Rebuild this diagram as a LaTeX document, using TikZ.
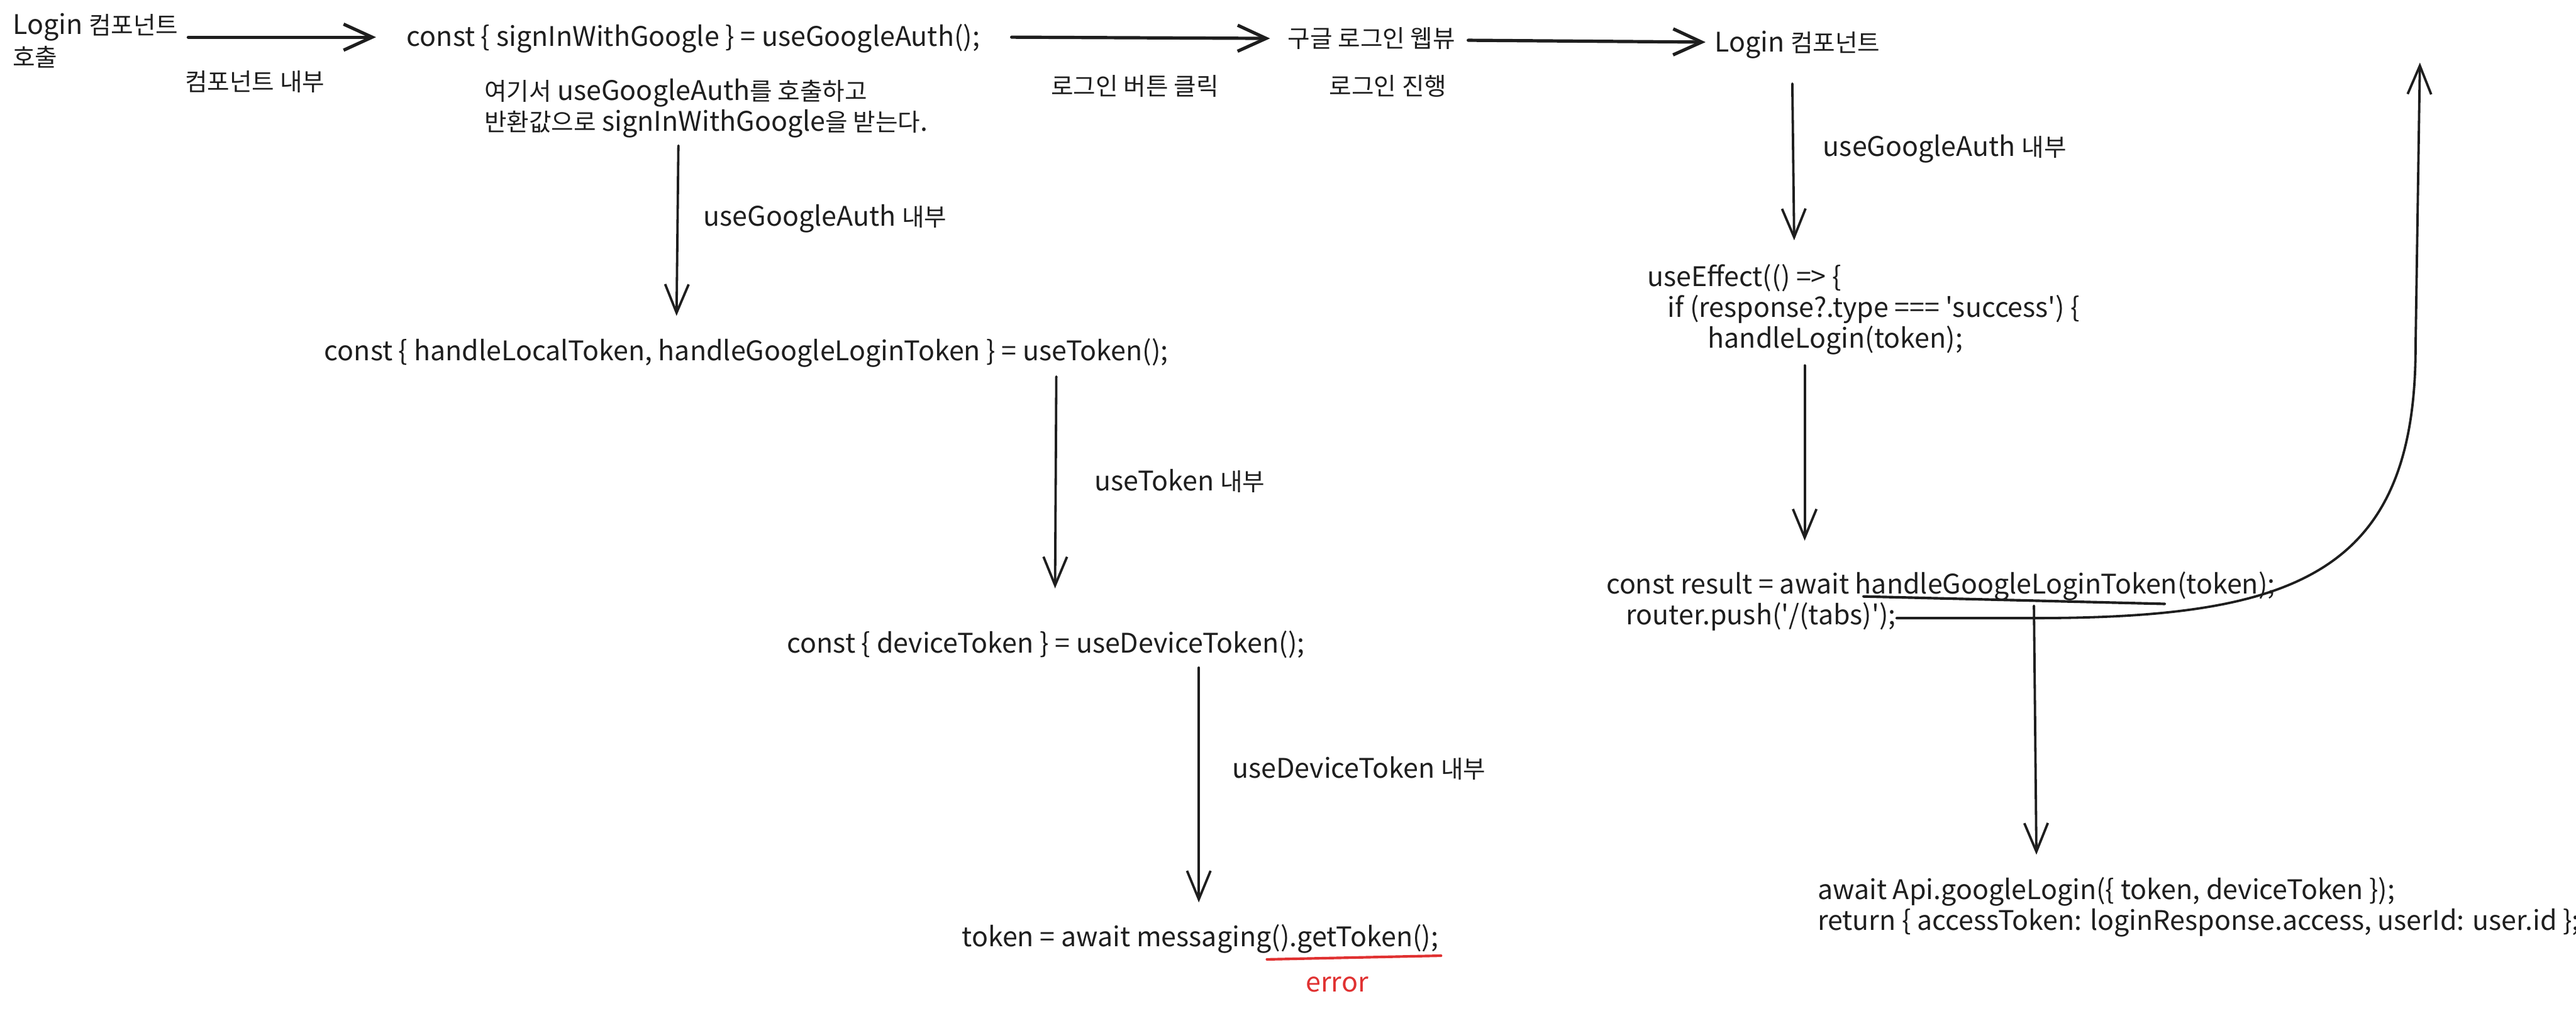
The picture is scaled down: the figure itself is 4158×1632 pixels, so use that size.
\documentclass[tikz,border=0pt]{standalone}
\usepackage{fontspec}
\setmainfont{Noto Sans CJK KR}[Ligatures=TeXOff]
\newfontfamily\kr{Noto Sans CJK KR}[Scale=0.9]
\newcommand{\ko}[1]{{\kr #1}}
\usetikzlibrary{arrows.meta}
\definecolor{ink}{HTML}{1E1E1E}
\definecolor{errred}{HTML}{E03131}
\begin{document}
\begin{tikzpicture}[x=0.01cm,y=-0.01cm,
  txt/.style={inner sep=0pt, anchor=base west, align=left, text=ink,
    font=\fontsize{12.4}{14.2}\selectfont},
  toparrow/.style={draw=ink, line width=1.5pt, line cap=round,
    -{Straight Barb[length=4.6mm,width=4.2mm,line width=1.5pt]}},
  downarrow/.style={draw=ink, line width=1.1pt, line cap=round,
    -{Straight Barb[length=4.6mm,width=3.8mm,line width=1.1pt]}},
  mark line/.style={line width=1.2pt, line cap=round},
]
\useasboundingbox (0,0) rectangle (4158,1632);

% ---------- top row ----------
% (base anchor of a multi-line node = baseline of its last line)
\node[txt] (n1) at (20,107) {Login \ko{컴포넌트}\\[0.6pt]\ko{호출}};
\node[txt] (l1) at (298,147) {\ko{컴포넌트 내부}};
\node[txt] (n2) at (656,75) {const \{ signInWithGoogle \} = useGoogleAuth();};
\node[txt] (l2) at (781,212) {\ko{여기서} useGoogleAuth\ko{를 호출하고}\\\ko{반환값으로} signInWithGoogle\ko{을 받는다}.};
\node[txt] (n3) at (2078,77) {\ko{구글 로그인 웹뷰}};
\node[txt] (l3) at (1696,154) {\ko{로그인 버튼 클릭}};
\node[txt] (l4) at (2145,154) {\ko{로그인 진행}};
\node[txt] (n4) at (2767,84) {Login \ko{컴포넌트}};

\coordinate (a1s) at (304,60);  \coordinate (a1e) at (607,60);
\coordinate (a2s) at (1633,60); \coordinate (a2e) at (2050,62);
\coordinate (a3s) at (2370,65); \coordinate (a3e) at (2753,68);
\draw[toparrow] (a1s) -- (a1e);
\draw[toparrow] (a2s) -- (a2e);
\draw[toparrow] (a3s) -- (a3e);

% ---------- right column ----------
\node[txt] (l5) at (2942,252) {useGoogleAuth \ko{내부}};
\node[txt] (n5) at (2658,562) {useEffect(() => \{\\\hspace*{0.33cm}if (response?.type === 'success') \{\\\hspace*{0.98cm}handleLogin(token);};
\node[txt] (n6) at (2592,1009) {const result = await handleGoogleLoginToken(token);\\\hspace*{0.32cm}router.push('/(tabs)');};
\node[txt] (n7) at (2933,1502) {await Api.googleLogin(\{ token, deviceToken \});\\return \{ accessToken: loginResponse.access, userId: user.id \};};

\coordinate (a4s) at (2893,135);  \coordinate (a4e) at (2896,388);
\coordinate (a5s) at (2913,590);  \coordinate (a5e) at (2913,873);
\coordinate (a6s) at (3283,978);  \coordinate (a6e) at (3287,1380);
\draw[downarrow] (a4s) -- (a4e);
\draw[downarrow] (a5s) -- (a5e);
\draw[downarrow] (a6s) -- (a6e);

% underline of handleGoogleLoginToken
\coordinate (u1s) at (3008,963); \coordinate (u1e) at (3494,975);
\draw[mark line, ink] (u1s) -- (u1e);

% curved return arrow
\coordinate (c1s) at (3061,998);
\coordinate (c1m) at (3280,998);
\coordinate (c1e) at (3906,101);
\draw[downarrow] (c1s) -- (c1m) .. controls (3700,998) and (3899,930) .. (3899,560) -- (c1e);

% ---------- left column ----------
\node[txt] (l6) at (1135,365) {useGoogleAuth \ko{내부}};
\node[txt] (n8) at (523,582) {const \{ handleLocalToken, handleGoogleLoginToken \} = useToken();};
\node[txt] (l7) at (1766,792) {useToken \ko{내부}};
\node[txt] (n9) at (1270,1054) {const \{ deviceToken \} = useDeviceToken();};
\node[txt] (l8) at (1988,1256) {useDeviceToken \ko{내부}};
\node[txt] (n10) at (1552,1528) {token = await messaging().getToken();};
\node[txt, text=errred] (l9) at (2107,1601) {error};

\coordinate (a7s) at (1095,235);  \coordinate (a7e) at (1092,510);
\coordinate (a8s) at (1705,608);  \coordinate (a8e) at (1703,950);
\coordinate (a9s) at (1935,1078); \coordinate (a9e) at (1935,1457);
\draw[downarrow] (a7s) -- (a7e);
\draw[downarrow] (a8s) -- (a8e);
\draw[downarrow] (a9s) -- (a9e);

% red underline of .getToken();
\coordinate (u2s) at (2045,1549); \coordinate (u2e) at (2326,1543);
\draw[mark line, errred] (u2s) -- (u2e);
\end{tikzpicture}
\end{document}
